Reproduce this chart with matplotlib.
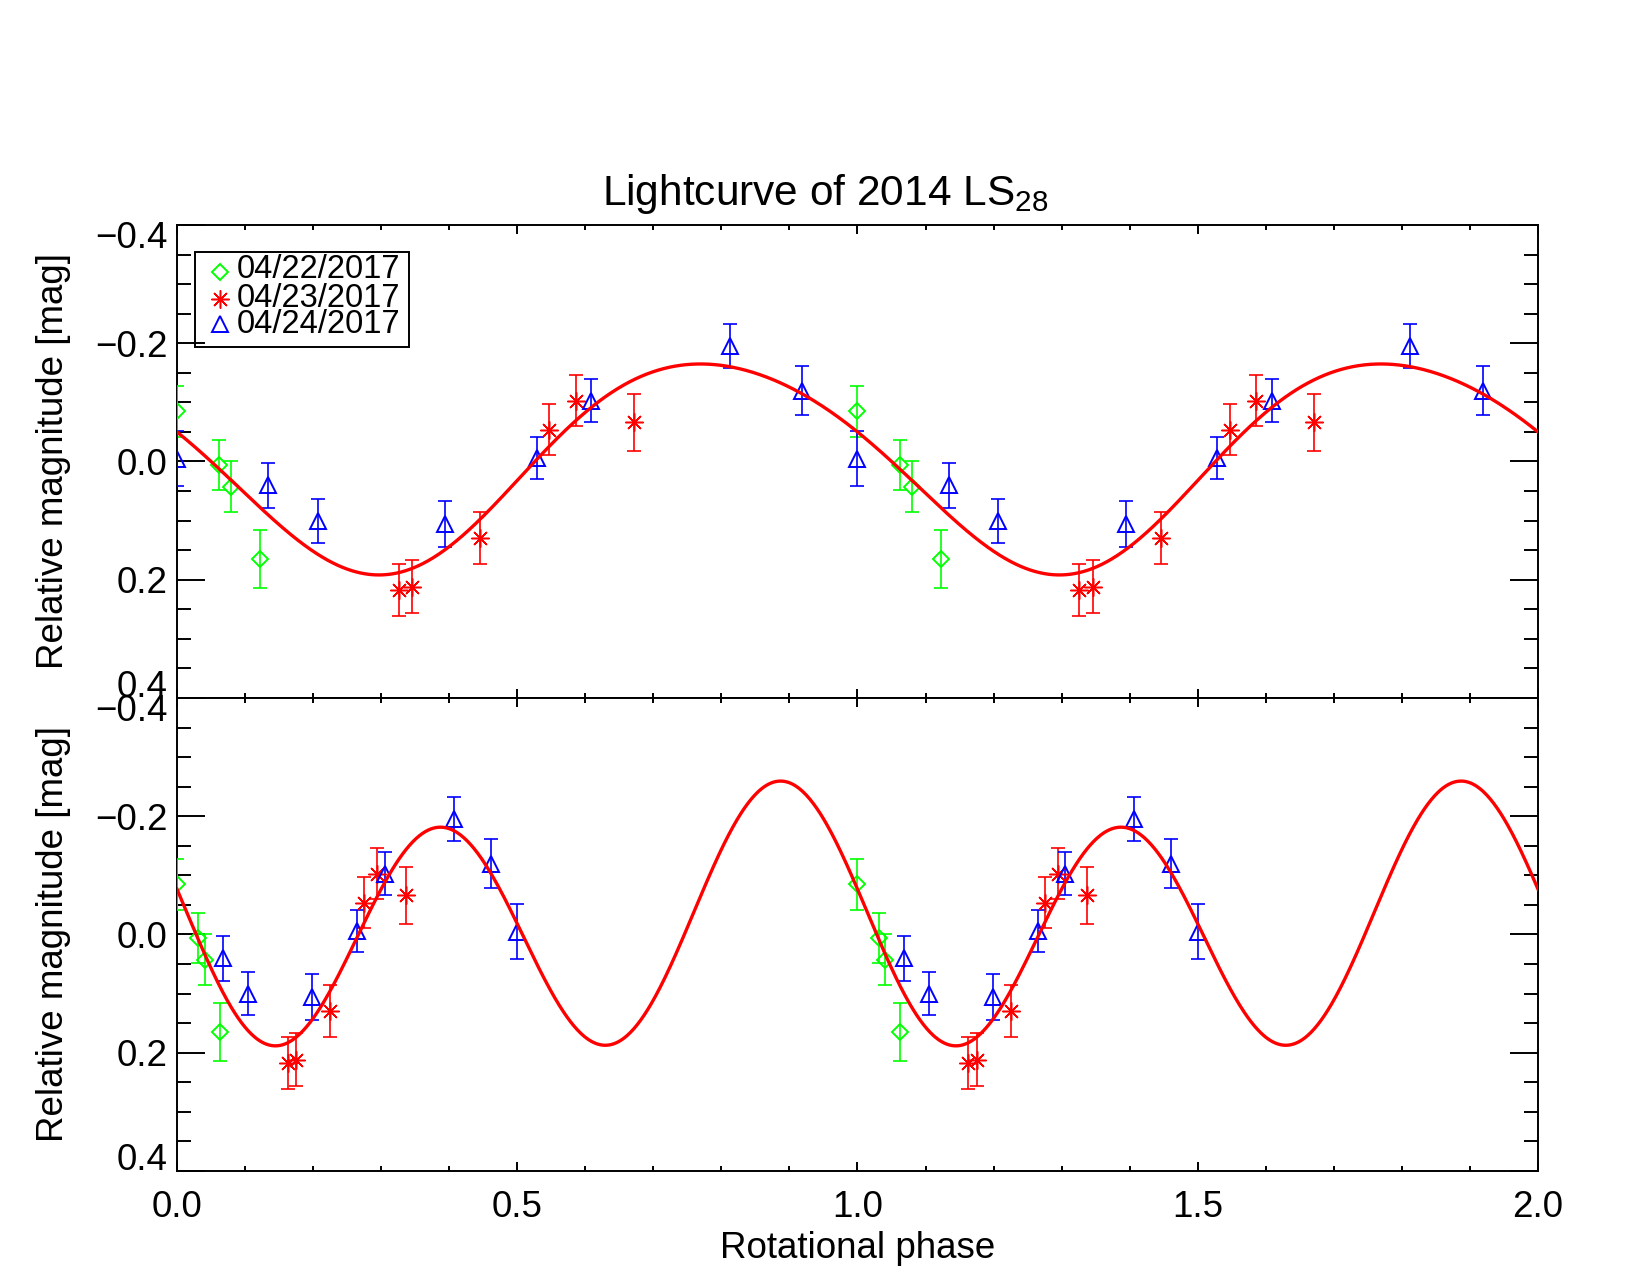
import numpy as np
import matplotlib
matplotlib.use("Agg")
import matplotlib.pyplot as plt
from matplotlib.ticker import MultipleLocator, FuncFormatter
from matplotlib.patches import Rectangle
from matplotlib.transforms import ScaledTranslation

plt.rcParams['font.family'] = ['Liberation Sans', 'DejaVu Sans']
plt.rcParams['mathtext.fontset'] = 'custom'
plt.rcParams['mathtext.rm'] = 'Liberation Sans'

# ---------------- data ----------------
dates = ['04/22/2017', '04/23/2017', '04/24/2017']
colors = ['#00ff00', '#ff0000', '#0000ff']

# 04/22/2017 (green diamonds)
phase_single_0422 = [0.000, 0.062, 0.080, 0.122]
phase_double_0422 = [0.000, 0.031, 0.041, 0.063]
mag_0422 = [-0.085, 0.006, 0.043, 0.165]
err_0422 = [0.043, 0.043, 0.043, 0.049]

# 04/23/2017 (red asterisks)
phase_single_0423 = [0.326, 0.346, 0.446, 0.547, 0.586, 0.671]
phase_double_0423 = [0.163, 0.175, 0.225, 0.275, 0.294, 0.337]
mag_0423 = [0.217, 0.212, 0.129, -0.054, -0.103, -0.066]
err_0423 = [0.044, 0.045, 0.044, 0.043, 0.043, 0.048]

# 04/24/2017 (blue triangles)
phase_single_0424 = [0.000, 0.134, 0.207, 0.394, 0.529, 0.609, 0.812, 0.919]
phase_double_0424 = [0.500, 0.068, 0.105, 0.199, 0.265, 0.305, 0.407, 0.461]
mag_0424 = [-0.005, 0.040, 0.100, 0.105, -0.006, -0.103, -0.195, -0.120]
err_0424 = [0.047, 0.038, 0.037, 0.039, 0.036, 0.037, 0.037, 0.042]

# Fourier fit coefficients [a0, a1, b1, a2, b2]
fit_single = [0.000, -0.041, 0.173, -0.009, -0.0125]
fit_double = [-0.0168, -0.02925, 0.02579, -0.03062, 0.20138]

xticks = [0.0, 0.5, 1.0, 1.5, 2.0]
yticks = [-0.4, -0.2, 0.0, 0.2, 0.4]

# ---------------- helpers ----------------
def fourier(phase, coeffs):
    out = np.full_like(phase, coeffs[0], dtype=float)
    nh = (len(coeffs) - 1) // 2
    for k in range(1, nh + 1):
        a, b = coeffs[2 * k - 1], coeffs[2 * k]
        out += a * np.cos(2 * np.pi * k * phase) + b * np.sin(2 * np.pi * k * phase)
    return out

def two_cycles(p):
    p = np.asarray(p, dtype=float)
    return np.concatenate([p, p + 1.0])

def fmt(v, pos):
    if abs(v) < 1e-9:
        v = 0.0
    return f'{v:.1f}'.replace('-', '\u2212')

markers = [
    dict(marker='D', ms=8.4, mew=1.4),
    dict(marker=(8, 2, 0), ms=13, mew=1.1),
    dict(marker='^', ms=11.5, mew=1.4),
]

fig = plt.figure(figsize=(16.5, 12.75), dpi=100)
ax1 = fig.add_axes([0.10727, 0.45255, 0.82485, 0.37098])
ax2 = fig.add_axes([0.10727, 0.08157, 0.82485, 0.37098])

sets_single = [(phase_single_0422, mag_0422, err_0422),
               (phase_single_0423, mag_0423, err_0423),
               (phase_single_0424, mag_0424, err_0424)]
sets_double = [(phase_double_0422, mag_0422, err_0422),
               (phase_double_0423, mag_0423, err_0423),
               (phase_double_0424, mag_0424, err_0424)]

grid = np.linspace(0, 2, 1201)

for ax, sets, coeffs in ((ax1, sets_single, fit_single), (ax2, sets_double, fit_double)):
    for (ph, mg, er), col, mk in zip(sets, colors, markers):
        x = two_cycles(ph)
        y = np.concatenate([mg, mg])
        e = np.concatenate([er, er])
        ax.errorbar(x, y, yerr=e, fmt='none', ecolor=col, elinewidth=1.2,
                    capsize=5, capthick=1.2, zorder=3)
        ax.plot(x, y, linestyle='none', color=col, mfc='none', mec=col,
                zorder=4, **mk)
    ax.plot(grid, fourier(grid, coeffs), color='#ff0000', lw=2.4, zorder=5)

    ax.set_xlim(0, 2)
    ax.set_ylim(0.4, -0.4)
    ax.set_xticks(xticks)
    ax.set_yticks(yticks)
    ax.xaxis.set_minor_locator(MultipleLocator(0.1))
    ax.yaxis.set_minor_locator(MultipleLocator(0.05))
    ax.xaxis.set_major_formatter(FuncFormatter(fmt))
    ax.yaxis.set_major_formatter(FuncFormatter(fmt))
    ax.tick_params(which='both', direction='in', top=True, right=True,
                   width=1.4, colors='black', labelsize=26.5)
    ax.tick_params(axis='y', which='major', length=20, pad=7)
    ax.tick_params(axis='y', which='minor', length=10)
    ax.tick_params(axis='x', which='major', length=6.8, pad=14)
    ax.tick_params(axis='x', which='minor', length=3.4)
    for sp in ax.spines.values():
        sp.set_linewidth(1.4)
    ax.set_ylabel('Relative magnitude [mag]', fontsize=26.5)
    ax.yaxis.set_label_coords(-0.078, 0.5)

ax1.tick_params(labelbottom=False)
ax2.set_xlabel('Rotational phase', fontsize=26.5)
ax2.xaxis.set_label_coords(0.5, -0.127)

# end labels nudged inward, as in the original
for ax in (ax1, ax2):
    locs = ax.yaxis.get_majorticklocs()
    for t, v in zip(ax.yaxis.get_major_ticks(), locs):
        if np.isclose(v, yticks[0]):
            t.label1.set_transform(t.label1.get_transform()
                                   + ScaledTranslation(0, -0.10, fig.dpi_scale_trans))
        elif np.isclose(v, yticks[-1]):
            t.label1.set_transform(t.label1.get_transform()
                                   + ScaledTranslation(0, 0.14, fig.dpi_scale_trans))

fig.text(825 / 1650, 1 - 205 / 1275, r'Lightcurve of 2014 LS$_{\mathregular{28}}$',
         ha='center', va='baseline', fontsize=30.5)

# legend box drawn in the style of the original
ax1.add_patch(Rectangle((0.0132, 0.7421), 0.1573, 0.2008, transform=ax1.transAxes,
                        fill=False, lw=1.4, ec='black', zorder=6))
marker_y = [0.8999, 0.8436, 0.7907]
text_y = [0.8873, 0.8273, 0.771]
for lab, col, mk, my, ty in zip(dates, colors, markers, marker_y, text_y):
    ax1.plot([0.0316], [my], transform=ax1.transAxes, linestyle='none', color=col,
             mfc='none', mec=col, clip_on=False, zorder=7, **mk)
    ax1.text(0.0439, ty, lab, transform=ax1.transAxes, fontsize=23.5,
             ha='left', va='baseline', zorder=7)

fig.savefig('out.png', dpi=100)
